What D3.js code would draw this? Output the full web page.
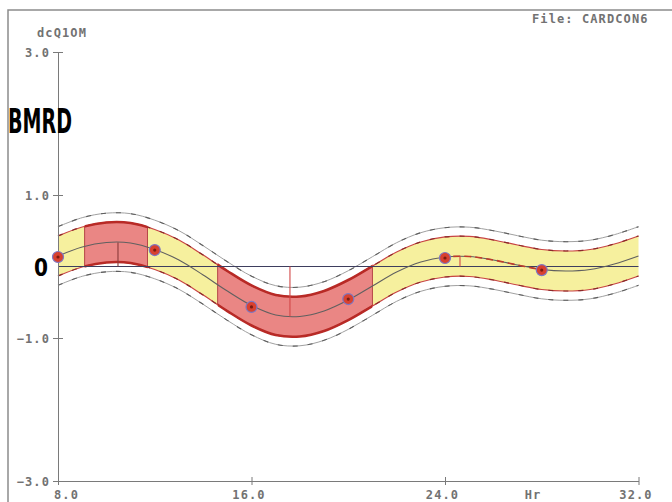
<!DOCTYPE html>
<html>
<head>
<meta charset="utf-8">
<script src="https://cdn.jsdelivr.net/npm/d3@7"></script>
<style>
  body { margin: 0; background: #fff; }
  svg { display: block; }
</style>
</head>
<body>
<svg id="chart" width="672" height="502"></svg>
<script>
// Fitted rhythm (hourly), value in BMRD units
const hours     = [8, 9, 10, 11, 12, 13, 14, 15, 16, 17, 18, 19, 20, 21, 22, 23, 24, 25, 26, 27, 28, 29, 30, 31, 32];
const fitValues = [0.147, 0.273, 0.336, 0.329, 0.238, 0.091, -0.119, -0.343, -0.545, -0.678, -0.699, -0.622,
                   -0.469, -0.273, -0.077, 0.063, 0.133, 0.140, 0.091, 0.021, -0.042, -0.063, -0.042, 0.035, 0.147];

// Half-widths of the inner and outer limits around the fitted rhythm
const innerHalfWidth = 0.28;
const outerHalfWidth = 0.41;

// Observations
const obsHours  = [8, 12, 16, 20, 24, 28];
const obsValues = [0.133, 0.23, -0.566, -0.455, 0.119, -0.05];

// Spans where the inner limits exclude zero
const spanStarts = [9.1, 14.6];
const spanEnds   = [11.7, 21.0];

// Phase markers (peak / trough / second peak) and their levels
const markerHours  = [10.48, 17.59, 24.62];
const markerValues = [0.337, -0.70, 0.142];
const markerColors = ["#8b3a3a", "#d24848", "#d24848"];

// Stretch of the fitted line drawn dashed
const dashedFrom = 24, dashedTo = 28;

// Axis ticks
const yTicks = [3, 1, -1, -3];
const xTicks = [8, 16, 24, 32];

const svg = d3.select("#chart");
const x = d3.scaleLinear().domain([8, 32]).range([58, 638.5]);
const y = d3.scaleLinear().domain([-3, 3]).range([481, 52]);

const rows = hours.map((h, i) => ({ h, v: fitValues[i] }));
const smooth = d3.curveCatmullRom.alpha(0.5);
const lineAt = off => d3.line().x(d => x(d.h)).y(d => y(d.v + off)).curve(smooth);
const bandArea = half => d3.area().x(d => x(d.h))
  .y0(d => y(d.v - half)).y1(d => y(d.v + half)).curve(smooth);

// page frame
svg.append("rect").attr("width", 672).attr("height", 502).attr("fill", "#fff");
svg.append("path").attr("d", "M8,502V10H672")
  .attr("fill", "none").attr("stroke", "#8c8c8c").attr("stroke-width", 1.5);

const defs = svg.append("defs");
defs.append("clipPath").attr("id", "innerBandClip")
  .append("path").attr("d", bandArea(innerHalfWidth)(rows));
const spanClip = defs.append("clipPath").attr("id", "spanClip");
spanStarts.forEach((s, i) => {
  spanClip.append("rect")
    .attr("x", x(s)).attr("width", x(spanEnds[i]) - x(s))
    .attr("y", y(3)).attr("height", y(-3) - y(3));
});
defs.append("clipPath").attr("id", "dashClip")
  .append("rect").attr("x", x(dashedFrom)).attr("width", x(dashedTo) - x(dashedFrom))
  .attr("y", y(3)).attr("height", y(-3) - y(3));

// inner band (yellow)
svg.append("path").attr("d", bandArea(innerHalfWidth)(rows))
  .attr("fill", "#f6f09e");

// significant spans (red), clipped to the inner band
svg.append("g").attr("clip-path", "url(#innerBandClip)")
  .selectAll("rect").data(spanStarts).join("rect")
  .attr("x", (s) => x(s)).attr("width", (s, i) => x(spanEnds[i]) - x(s))
  .attr("y", y(3)).attr("height", y(-3) - y(3))
  .attr("fill", "#ea8684").attr("stroke", "#b54848").attr("stroke-width", 1);

// outer limits
[outerHalfWidth, -outerHalfWidth].forEach(off => {
  svg.append("path").attr("d", lineAt(off)(rows))
    .attr("fill", "none").attr("stroke", "#a0a0a0").attr("stroke-width", 1);
  svg.append("path").attr("d", lineAt(off)(rows))
    .attr("fill", "none").attr("stroke", "#5e5e5e").attr("stroke-width", 1.1)
    .attr("stroke-dasharray", "5,10");
});

// inner limits
[innerHalfWidth, -innerHalfWidth].forEach(off => {
  svg.append("path").attr("d", lineAt(off)(rows))
    .attr("fill", "none").attr("stroke", "#c84444").attr("stroke-width", 1.2);
  svg.append("path").attr("d", lineAt(off)(rows))
    .attr("fill", "none").attr("stroke", "#8a2a2a").attr("stroke-width", 1.2)
    .attr("stroke-dasharray", "5,10");
});
// heavier limits inside the significant spans
const heavy = svg.append("g").attr("clip-path", "url(#spanClip)");
[innerHalfWidth, -innerHalfWidth].forEach(off => {
  heavy.append("path").attr("d", lineAt(off)(rows))
    .attr("fill", "none").attr("stroke", "#b82a26").attr("stroke-width", 2.6);
});

// zero reference
svg.append("line")
  .attr("x1", x(8)).attr("x2", x(32)).attr("y1", y(0)).attr("y2", y(0))
  .attr("stroke", "#3e3e5e").attr("stroke-width", 1.1);

// fitted line
svg.append("path").attr("d", lineAt(0)(rows))
  .attr("fill", "none").attr("stroke", "#606060").attr("stroke-width", 1.1);
const dashedRows = rows.filter(d => d.h >= dashedFrom - 1 && d.h <= dashedTo + 1);
svg.append("path").attr("d", lineAt(0)(dashedRows))
  .attr("clip-path", "url(#dashClip)")
  .attr("fill", "none").attr("stroke", "#c0392b").attr("stroke-width", 1.6)
  .attr("stroke-dasharray", "7,4");

// phase markers
svg.selectAll("line.marker").data(markerHours).join("line")
  .attr("class", "marker")
  .attr("x1", d => x(d)).attr("x2", d => x(d))
  .attr("y1", y(0)).attr("y2", (d, i) => y(markerValues[i]))
  .attr("stroke", (d, i) => markerColors[i]).attr("stroke-width", 1.1);

// axes
const tickFont = "'DejaVu Sans Mono', 'Liberation Mono', monospace";
const yAxis = svg.append("g").attr("transform", `translate(${x(8)},0)`)
  .call(d3.axisLeft(y).tickValues(yTicks).tickFormat(d3.format(".1f")).tickSizeOuter(0));
yAxis.select(".domain").attr("stroke", "#7a7a7a");
yAxis.selectAll(".tick line").attr("x1", 5).attr("x2", -5).attr("stroke", "#7a7a7a");
yAxis.selectAll(".tick text")
  .attr("x", -8).attr("dy", "0.36em")
  .attr("fill", "#727272").attr("font-family", tickFont)
  .attr("font-size", 12).attr("font-weight", "bold").attr("letter-spacing", 1.1);

const xAxis = svg.append("g").attr("transform", `translate(0,${y(-3)})`)
  .call(d3.axisBottom(x).tickValues(xTicks).tickFormat(d3.format(".1f")).tickSizeOuter(0));
xAxis.select(".domain").attr("stroke", "#7a7a7a");
xAxis.selectAll(".tick line").attr("y1", -4).attr("y2", 4).attr("stroke", "#7a7a7a");
xAxis.selectAll(".tick text")
  .attr("y", 18).attr("dy", 0)
  .attr("dx", d => d === 8 ? 8 : -3)
  .attr("fill", "#727272").attr("font-family", tickFont)
  .attr("font-size", 12).attr("font-weight", "bold").attr("letter-spacing", 1.1);

// observations
const obs = svg.append("g");
obs.selectAll("circle.obs").data(obsHours).join("circle")
  .attr("class", "obs")
  .attr("cx", d => x(d)).attr("cy", (d, i) => y(obsValues[i]))
  .attr("r", 5.5).attr("fill", "#d8412f").attr("stroke", "#7d78c4").attr("stroke-width", 1.2);
obs.selectAll("circle.core").data(obsHours).join("circle")
  .attr("class", "core")
  .attr("cx", d => x(d)).attr("cy", (d, i) => y(obsValues[i]))
  .attr("r", 1.6).attr("fill", "#7a1c12");

// labels
const mono = (t, px, py, anchor) => svg.append("text").text(t)
  .attr("x", px).attr("y", py).attr("text-anchor", anchor || "start")
  .attr("fill", "#727272").attr("font-family", tickFont)
  .attr("font-size", 12).attr("font-weight", "bold").attr("letter-spacing", 1.1);
mono("dcQ1OM", 62, 37, "middle");
mono("File: CARDCON6", 532, 23);
mono("Hr", 533, 499, "middle");

svg.append("text").text("BMRD")
  .attr("x", 8).attr("y", 133)
  .attr("font-family", "'DejaVu Sans', 'Liberation Sans', sans-serif")
  .attr("font-weight", "bold").attr("font-size", 34)
  .attr("textLength", 64).attr("lengthAdjust", "spacingAndGlyphs")
  .attr("fill", "#000");
svg.append("text").text("0")
  .attr("x", 34).attr("y", y(0) + 9)
  .attr("font-family", "'DejaVu Sans', 'Liberation Sans', sans-serif")
  .attr("font-weight", "bold").attr("font-size", 25)
  .attr("textLength", 14).attr("lengthAdjust", "spacingAndGlyphs")
  .attr("fill", "#000");
</script>
</body>
</html>
